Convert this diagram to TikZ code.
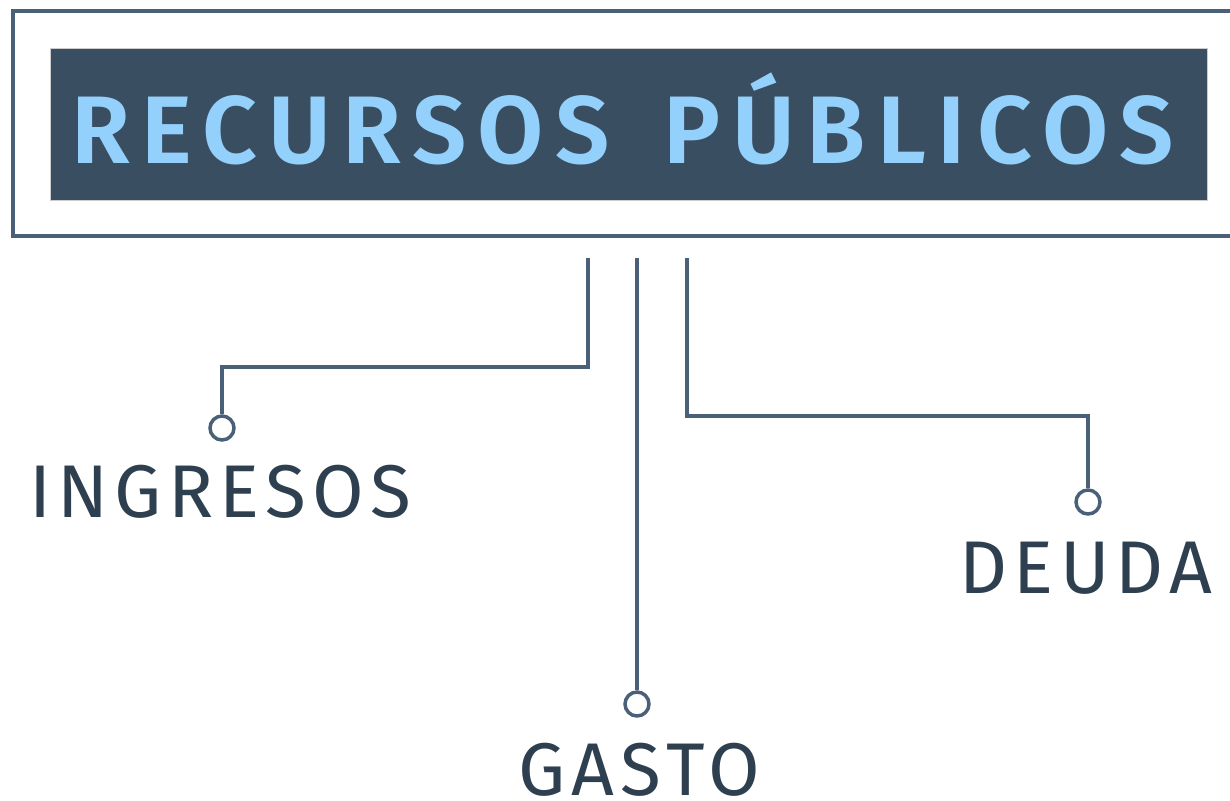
\documentclass[tikz,border=0pt]{standalone}
\usepackage{fontspec}
\setmainfont{Fira Sans}
\newfontfamily\bannerfont[LetterSpace=12]{Fira Sans SemiBold}
\newfontfamily\branchfont[LetterSpace=8.5]{Fira Sans}
\usetikzlibrary{positioning}
\definecolor{steel}{HTML}{4A6078}
\definecolor{navy}{HTML}{2E3F50}
\definecolor{bannerbg}{HTML}{3A4E62}
\definecolor{sky}{HTML}{93D1FC}

\begin{document}
\begin{tikzpicture}[
  x=0.75pt, y=-0.75pt,
  frame/.style={rectangle, draw=steel, line width=2.6pt,
    minimum width=924pt, minimum height=169pt, inner sep=0pt},
  banner/.style={rectangle, fill=bannerbg, draw=gray!40, line width=0.4pt,
    minimum width=868pt, minimum height=114pt, inner sep=0pt},
  titletext/.style={anchor=base west, inner sep=0pt, text=sky,
    font=\bannerfont\fontsize{72}{80}\selectfont},
  branch/.style={anchor=base west, inner sep=0pt, text=navy,
    font=\branchfont\fontsize{56}{64}\selectfont},
  knob/.style={circle, draw=steel, fill=white, line width=2.6pt,
    minimum size=18pt, inner sep=0pt},
  wire/.style={draw=steel, line width=2.6pt}
]
\useasboundingbox (0,0) rectangle (1230,800);

%% ── Header ───────────────────────────────────────────────────────────────────
\node[frame]  (frame)  at (629,123.5) {};
\node[banner] (banner) at (628.5,124) {};
\node[titletext] (title) at (71,163) {RECURSOS\hspace{0.2em} PÚBLICOS};

%% ── Branch roots ─────────────────────────────────────────────────────────────
\coordinate (root_ing) at (588,258);
\coordinate (root_gas) at (637,258);
\coordinate (root_deu) at (687,258);

%% ── End knobs ────────────────────────────────────────────────────────────────
\node[knob] (k_ing) at (222,428) {};
\node[knob] (k_gas) at (637,704) {};
\node[knob] (k_deu) at (1088,502) {};

\draw[wire] (root_ing) -- ++(0,109) -| (k_ing.north);
\draw[wire] (root_gas) -- (k_gas.north);
\draw[wire] (root_deu) -- ++(0,158) -| (k_deu.north);

%% ── Labels ───────────────────────────────────────────────────────────────────
\node[branch] (ingresos) at (29,517)  {INGRESOS};
\node[branch] (gasto)    at (518,795) {GASTO};
\node[branch] (deuda)    at (959,593) {DEUDA};

\end{tikzpicture}
\end{document}
